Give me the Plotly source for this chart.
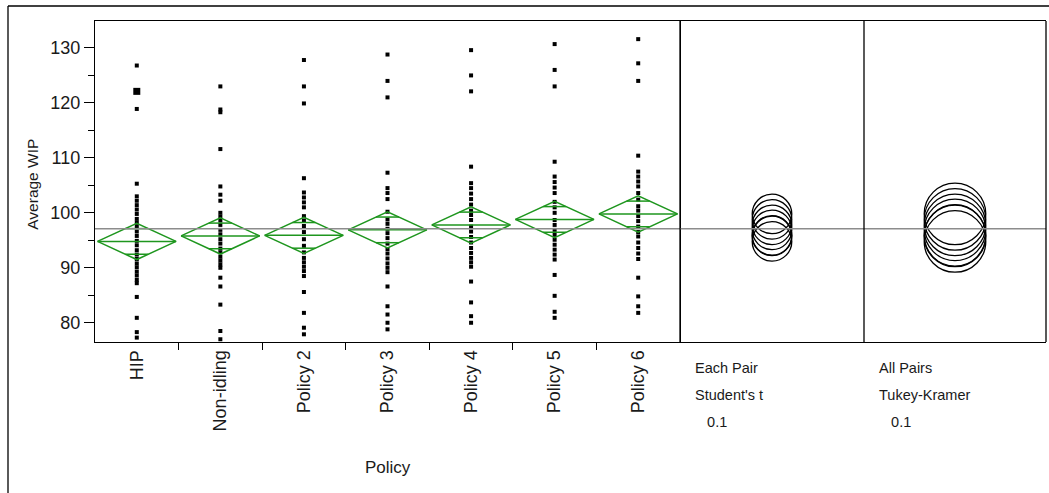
import math
import plotly.graph_objects as go

# Policies compared in the one-way analysis
policies = ["HIP", "Non-idling", "Policy 2", "Policy 3", "Policy 4", "Policy 5", "Policy 6"]

# Average WIP observations for each policy
wip_hip = [126.8, 118.9, 105.3, 103.0, 102.2, 101.4, 100.6, 99.8, 98.9, 98.2, 97.5, 96.6,
           95.8, 94.9, 94.1, 93.2, 92.4, 91.6, 90.8, 90.1, 89.3, 88.6, 87.8, 87.2, 84.7,
           80.9, 78.3, 77.3]
wip_hip_marked = [122.1]
wip_non_idling = [123.0, 118.8, 118.3, 111.6, 104.8, 103.3, 102.2, 100.0, 99.3, 98.6, 97.8,
                  96.9, 96.1, 95.2, 94.4, 93.5, 92.8, 92.0, 91.3, 90.6, 90.0, 88.2, 86.6,
                  83.3, 78.5, 77.0]
wip_policy2 = [127.8, 123.0, 119.9, 106.3, 103.7, 102.8, 101.9, 101.0, 99.4, 98.6, 97.6,
               96.5, 95.2, 94.0, 92.8, 91.8, 91.0, 90.2, 89.4, 88.5, 85.6, 81.8, 79.1, 77.9]
wip_policy3 = [128.8, 124.0, 121.0, 107.3, 104.5, 103.6, 102.5, 100.2, 98.8, 98.0, 97.1,
               96.3, 95.4, 94.4, 93.4, 92.6, 91.7, 90.8, 90.0, 89.2, 86.6, 83.0, 81.5, 80.0,
               78.8]
wip_policy4 = [129.6, 125.0, 122.1, 108.4, 105.4, 104.5, 103.5, 102.5, 101.5, 100.4, 99.6,
               98.7, 97.5, 96.6, 95.6, 94.6, 93.6, 92.7, 91.8, 91.0, 90.2, 87.5, 83.7, 81.2,
               80.0]
wip_policy5 = [130.7, 126.0, 123.0, 109.3, 106.6, 105.6, 104.6, 103.6, 102.0, 101.0, 100.0,
               98.7, 97.8, 96.9, 96.0, 95.1, 94.2, 93.3, 92.4, 91.5, 88.7, 84.9, 82.0, 80.9]
wip_policy6 = [131.6, 127.2, 124.0, 110.4, 107.5, 106.6, 105.7, 104.8, 103.6, 102.4, 101.2,
               100.4, 99.4, 98.5, 97.5, 96.5, 95.7, 94.6, 93.6, 92.6, 91.6, 88.2, 84.8, 83.0,
               81.8]
wip_by_policy = [wip_hip, wip_non_idling, wip_policy2, wip_policy3,
                 wip_policy4, wip_policy5, wip_policy6]

# Group means and 95% confidence half-widths for the means diamonds
policy_means = [94.8, 95.8, 95.9, 96.9, 97.8, 98.8, 99.8]
ci_half_width = [3.3, 3.3, 3.3, 3.3, 3.3, 3.3, 3.3]
grand_mean = 97.1

# Comparison circle radii (alpha = 0.1)
student_t_radius = 3.6
tukey_radius = 5.6

y_ticks = [80, 90, 100, 110, 120, 130]

FONT = "Arial, Liberation Sans, sans-serif"
TXT = "#1a1a1a"
GREEN = "#1e961e"

fig = go.Figure()

# Data points, one column per policy
for i, vals in enumerate(wip_by_policy):
    fig.add_trace(go.Scatter(
        x=[i] * len(vals), y=vals, mode="markers",
        marker=dict(symbol="square", size=4, color="black", line=dict(width=0)),
        hoverinfo="y", showlegend=False))
fig.add_trace(go.Scatter(
    x=[0] * len(wip_hip_marked), y=wip_hip_marked, mode="markers",
    marker=dict(symbol="square", size=7, color="black", line=dict(width=0)),
    showlegend=False))

# Means diamonds with mean line and overlap marks
half_w = 0.47
k = 1 / math.sqrt(2)
dx, dy = [], []
for i, (m, c) in enumerate(zip(policy_means, ci_half_width)):
    dx += [i - half_w, i, i + half_w, i, i - half_w, None]
    dy += [m, m + c, m, m - c, m, None]
    dx += [i - half_w, i + half_w, None]
    dy += [m, m, None]
    ow = half_w * (1 - k)
    for s in (1, -1):
        dx += [i - ow, i + ow, None]
        dy += [m + s * c * k, m + s * c * k, None]
fig.add_trace(go.Scatter(x=dx, y=dy, mode="lines",
                         line=dict(color=GREEN, width=1.5),
                         hoverinfo="skip", showlegend=False))

# Comparison circles: Student's t (x2) and Tukey-Kramer (x3)
shapes = []
for m in policy_means:
    shapes.append(dict(type="circle", xref="x2", yref="y",
                       x0=-student_t_radius, x1=student_t_radius,
                       y0=m - student_t_radius, y1=m + student_t_radius,
                       line=dict(color="black", width=1.3)))
    shapes.append(dict(type="circle", xref="x3", yref="y",
                       x0=-tukey_radius, x1=tukey_radius,
                       y0=m - tukey_radius, y1=m + tukey_radius,
                       line=dict(color="black", width=1.3)))

# Grand mean line across all panels
shapes.append(dict(type="line", xref="paper", yref="y", x0=0, x1=1,
                   y0=grand_mean, y1=grand_mean,
                   line=dict(color="#8c8c8c", width=1.6), layer="above"))

W, H = 1049, 493
ml, mr, mt, mb = 95, 3, 21, 151
pw = W - ml - mr
ph = H - mt - mb
d1 = (680 - ml) / pw
d2 = (864 - ml) / pw

# Panel dividers and right border
for xp in (d1, d2, 1):
    shapes.append(dict(type="line", xref="paper", yref="paper", x0=xp, x1=xp,
                       y0=0, y1=1, line=dict(color="black", width=1.3)))

# Outer frame (top and left edges)
frame_x = (8 - ml) / pw
frame_y = 1 + 15 / ph
shapes.append(dict(type="line", xref="paper", yref="paper",
                   x0=frame_x, x1=1.05, y0=frame_y, y1=frame_y,
                   line=dict(color="black", width=1.3)))
shapes.append(dict(type="line", xref="paper", yref="paper",
                   x0=frame_x, x1=frame_x, y0=frame_y, y1=-mb / ph - 0.05,
                   line=dict(color="black", width=1.3)))

annotations = [
    dict(text="Average WIP", xref="paper", yref="paper", x=(33 - ml) / pw, y=0.49,
         xanchor="center", yanchor="middle", textangle=-90, showarrow=False,
         font=dict(family=FONT, size=15.5, color=TXT)),
    dict(text="Policy", xref="x domain", yref="paper", x=0.5, y=0, yanchor="middle",
         yshift=-125, showarrow=False, font=dict(family=FONT, size=17, color=TXT)),
]
for xref, lines in (("x2 domain", ["Each Pair", "Student's t", "   0.1"]),
                    ("x3 domain", ["All Pairs", "Tukey-Kramer", "   0.1"])):
    for j, t in enumerate(lines):
        annotations.append(dict(text=t, xref=xref, yref="paper", x=0.07, y=0,
                                xanchor="left", yanchor="middle", yshift=-26 - 27 * j,
                                showarrow=False, font=dict(family=FONT, size=14.5, color=TXT)))

fig.update_layout(
    width=W, height=H,
    margin=dict(l=ml, r=mr, t=mt, b=mb),
    paper_bgcolor="white", plot_bgcolor="white",
    showlegend=False,
    shapes=shapes, annotations=annotations,
    xaxis=dict(domain=[0, d1], range=[-0.5, len(policies) - 0.5],
               tickmode="array", tickvals=list(range(len(policies))), ticktext=policies,
               tickangle=-90, ticks="", showgrid=False, zeroline=False,
               showline=True, linecolor="black", linewidth=1.3, mirror=True,
               tickfont=dict(family=FONT, size=18, color=TXT),
               minor=dict(tickmode="array",
                          tickvals=[i + 0.5 for i in range(len(policies) - 1)],
                          ticks="outside", ticklen=7, tickcolor="black", tickwidth=1.3)),
    xaxis2=dict(domain=[d1, d2], range=[-1, 1], anchor="y", scaleanchor="y", scaleratio=1,
                showticklabels=False, ticks="", showgrid=False, zeroline=False,
                showline=True, linecolor="black", linewidth=1.3, mirror=True),
    xaxis3=dict(domain=[d2, 1], range=[-1, 1], anchor="y", scaleanchor="y", scaleratio=1,
                showticklabels=False, ticks="", showgrid=False, zeroline=False,
                showline=True, linecolor="black", linewidth=1.3, mirror=True),
    yaxis=dict(range=[76.5, 134.9], tickmode="array", tickvals=y_ticks,
               ticks="outside", ticklen=10, tickcolor="black", tickwidth=1.3,
               showgrid=False, zeroline=False, showline=True, linecolor="black",
               linewidth=1.3, mirror=True,
               tickfont=dict(family=FONT, size=18, color=TXT),
               minor=dict(tickmode="linear", tick0=75, dtick=5, ticks="outside",
                          ticklen=6, tickcolor="black", tickwidth=1.3)),
)

fig.write_html("out.html")
